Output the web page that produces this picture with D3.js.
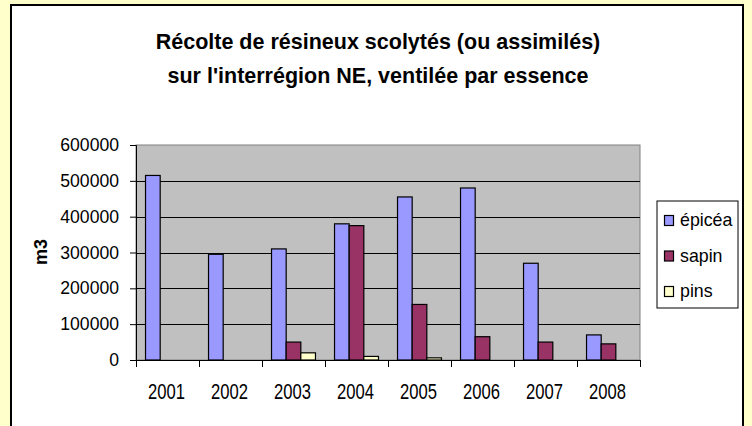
<!DOCTYPE html>
<html>
<head>
<meta charset="utf-8">
<script src="https://cdn.jsdelivr.net/npm/d3@7"></script>
<style>
  html, body { margin: 0; padding: 0; background: #FFFFCC; }
  svg { display: block; }
  text { font-family: "Liberation Sans", Arial, sans-serif; fill: #000; }
</style>
</head>
<body>
<svg id="chart" width="752" height="426"></svg>
<script>
const years = ["2001", "2002", "2003", "2004", "2005", "2006", "2007", "2008"];
const seriesNames = ["épicéa", "sapin", "pins"];
const epicea = [515000, 295000, 310000, 380000, 455000, 480000, 270000, 70000];
const sapin  = [0, 0, 50000, 375000, 155000, 65000, 50000, 45000];
const pins   = [0, 0, 20000, 10000, 6000, 0, 0, 0];
const yTicks = [0, 100000, 200000, 300000, 400000, 500000, 600000];
const titleLines = ["Récolte de résineux scolytés (ou assimilés)", "sur l'interrégion NE, ventilée par essence"];
const yLabel = "m3";
const colors = ["#9999FF", "#993366", "#FFFFCC"];

const seriesValues = [epicea, sapin, pins];

const svg = d3.select("#chart");
const W = 752, H = 426;

// outer background
svg.append("rect").attr("x", 0).attr("y", 0).attr("width", W).attr("height", H).attr("fill", "#FFFFCC");
// chart area
svg.append("rect").attr("x", 11).attr("y", 5).attr("width", 732).attr("height", 440)
  .attr("fill", "#FFFFFF").attr("stroke", "#000").attr("stroke-width", 2);

// title
svg.append("g").selectAll("text").data(titleLines).join("text")
  .attr("x", 378).attr("y", (d, i) => 49 + i * 34)
  .attr("text-anchor", "middle")
  .style("font-size", "21.5px").style("font-weight", "bold")
  .text(d => d);

const plot = { left: 136, top: 145, right: 640, bottom: 360 };

const x = d3.scaleBand().domain(years).range([plot.left, plot.right]).paddingInner(0).paddingOuter(0);
const xs = d3.scaleBand().domain(seriesNames).range([0, x.bandwidth()]).paddingInner(0).paddingOuter(0.65);
const y = d3.scaleLinear().domain([0, 600000]).range([plot.bottom, plot.top]);

// plot background
svg.append("rect").attr("x", plot.left).attr("y", plot.top)
  .attr("width", plot.right - plot.left).attr("height", plot.bottom - plot.top)
  .attr("fill", "#C0C0C0").attr("stroke", "#808080").attr("stroke-width", 1);

// gridlines
svg.append("g").selectAll("line").data(yTicks.filter(v => v > 0 && v < 600000)).join("line")
  .attr("x1", plot.left).attr("x2", plot.right)
  .attr("y1", d => Math.round(y(d)) + 0.5).attr("y2", d => Math.round(y(d)) + 0.5)
  .attr("stroke", "#000").attr("stroke-width", 1);

// bars
const barData = [];
seriesValues.forEach((vals, si) => {
  vals.forEach((v, i) => {
    if (v > 0) barData.push({ year: years[i], series: seriesNames[si], value: v, color: colors[si] });
  });
});
svg.append("g").selectAll("rect").data(barData).join("rect")
  .attr("x", d => x(d.year) + xs(d.series))
  .attr("y", d => y(d.value))
  .attr("width", xs.bandwidth())
  .attr("height", d => y(0) - y(d.value))
  .attr("fill", d => d.color)
  .attr("stroke", "#000").attr("stroke-width", 1.2);

// y axis
const yAxis = svg.append("g").attr("transform", `translate(${plot.left},0)`)
  .call(d3.axisLeft(y).tickValues(yTicks).tickFormat(d3.format("d")).tickSize(6).tickPadding(11));
yAxis.select(".domain").attr("stroke", "#000");
yAxis.selectAll(".tick line").attr("stroke", "#000");
yAxis.selectAll(".tick text").style("font-size", "17.6px").style("font-family", '"Liberation Sans", Arial, sans-serif').attr("fill", "#000");

// x axis
const xAxisG = svg.append("g").attr("transform", `translate(0,${plot.bottom})`);
xAxisG.append("line").attr("x1", plot.left).attr("x2", plot.right).attr("y1", 0.5).attr("y2", 0.5).attr("stroke", "#000");
const boundaries = years.map(yr => x(yr)).concat([plot.right]);
xAxisG.selectAll("line.tk").data(boundaries).join("line").attr("class", "tk")
  .attr("x1", d => Math.round(d) + 0.5).attr("x2", d => Math.round(d) + 0.5)
  .attr("y1", 0).attr("y2", 7).attr("stroke", "#000");
xAxisG.selectAll("text").data(years).join("text")
  .attr("transform", d => `translate(${x(d) + x.bandwidth() / 2 - 1},39.3) scale(1,1.28)`)
  .attr("text-anchor", "middle")
  .style("font-size", "16.6px")
  .text(d => d);

// y label
svg.append("text")
  .attr("transform", "translate(47,252) rotate(-90)")
  .attr("text-anchor", "middle")
  .style("font-size", "18px").style("font-weight", "bold")
  .text(yLabel);

// legend
const lg = svg.append("g");
lg.append("rect").attr("x", 657).attr("y", 201).attr("width", 81).attr("height", 107)
  .attr("fill", "#FFFFFF").attr("stroke", "#000").attr("stroke-width", 1);
const items = lg.selectAll("g.item").data(seriesNames).join("g").attr("class", "item")
  .attr("transform", (d, i) => `translate(0,${i * 35.5})`);
items.append("rect").attr("x", 664.5).attr("y", 215.5).attr("width", 9).attr("height", 10)
  .attr("fill", (d, i) => colors[i]).attr("stroke", "#000").attr("stroke-width", 1.2);
items.append("text").attr("x", 680).attr("y", 226)
  .style("font-size", "17.8px")
  .text(d => d);
</script>
</body>
</html>
